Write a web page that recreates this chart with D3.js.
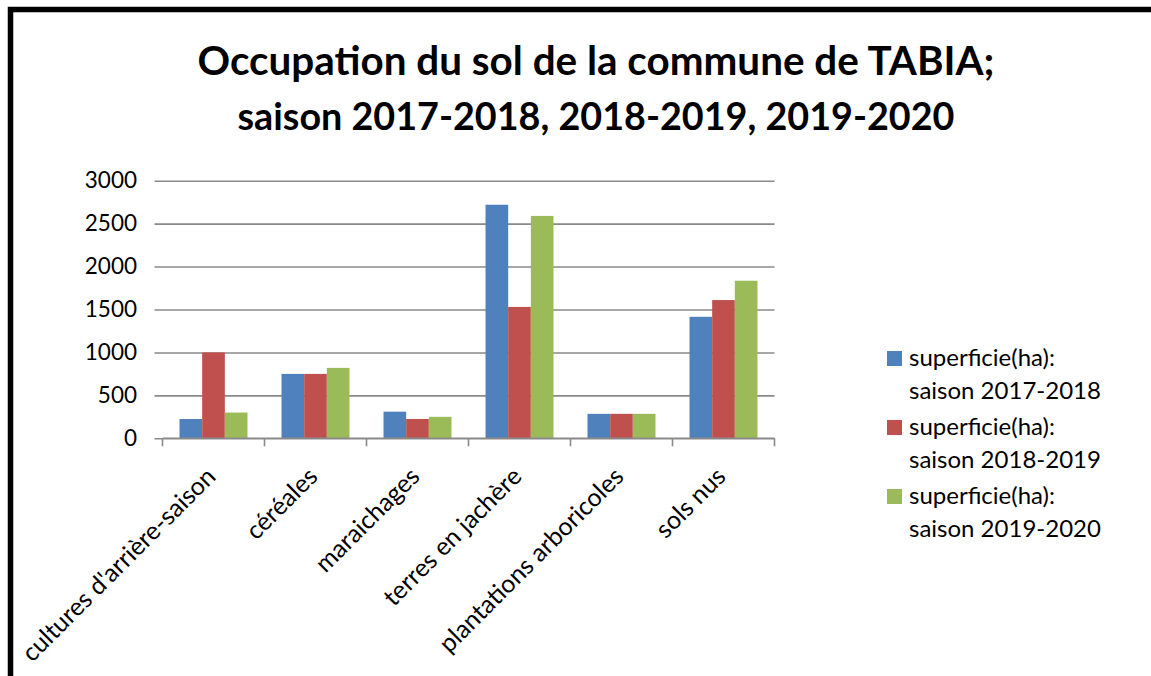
<!DOCTYPE html>
<html>
<head>
<meta charset="utf-8">
<script src="https://cdn.jsdelivr.net/npm/d3@7"></script>
<style>
  html, body { margin: 0; padding: 0; background: #fff; }
  svg { display: block; }
  text { font-family: Lato, "Open Sans", sans-serif; fill: #000; }
</style>
</head>
<body>
<svg id="chart" width="1151" height="676"></svg>
<script>
// Land use of the TABIA commune, surface in hectares per season
const categories = [
  "cultures d'arrière-saison",
  "céréales",
  "maraichages",
  "terres en jachère",
  "plantations arboricoles",
  "sols nus"
];
const seriesNames = [
  ["superficie(ha):", "saison 2017-2018"],
  ["superficie(ha):", "saison 2018-2019"],
  ["superficie(ha):", "saison 2019-2020"]
];
const season2017_2018 = [225, 750, 310, 2720, 285, 1415];
const season2018_2019 = [1000, 750, 225, 1530, 285, 1610];
const season2019_2020 = [300, 820, 250, 2590, 285, 1835];
const yTicks = [0, 500, 1000, 1500, 2000, 2500, 3000];
const titleLines = [
  "Occupation du sol de la commune de TABIA;",
  "saison 2017-2018, 2018-2019, 2019-2020"
];

const seriesValues = [season2017_2018, season2018_2019, season2019_2020];
const colors = ["#4F81BD", "#C0504D", "#9BBB59"];

const svg = d3.select("#chart");

// Outer frame (runs off the right and bottom edges)
svg.append("rect")
  .attr("x", 10.5).attr("y", 9.5)
  .attr("width", 1200).attr("height", 700)
  .attr("fill", "none").attr("stroke", "#000").attr("stroke-width", 5.5);

// Title, each line fitted to its width
const titleSpecs = [
  { y: 75, width: 797 },
  { y: 130, width: 717 }
];
titleLines.forEach((line, i) => {
  const t = svg.append("text")
    .attr("x", 596).attr("y", titleSpecs[i].y)
    .attr("text-anchor", "middle")
    .style("font-weight", "bold")
    .style("font-size", "34px")
    .text(line);
  const w = t.node().getComputedTextLength();
  t.style("font-size", (34 * titleSpecs[i].width / w).toFixed(2) + "px");
});

// Plot area
const plot = { left: 162.5, right: 774.5, top: 180.7, bottom: 438.3 };

const x0 = d3.scaleBand()
  .domain(categories)
  .range([plot.left, plot.right])
  .paddingInner(0)
  .paddingOuter(0);

const x1 = d3.scaleBand()
  .domain(d3.range(seriesValues.length))
  .range([0, x0.bandwidth()])
  .paddingInner(0)
  .paddingOuter(0.75);  // 150% gap width split on both sides of each group

const y = d3.scaleLinear()
  .domain([0, 3000])
  .range([plot.bottom, plot.top]);

// Horizontal gridlines with left tick marks
const yAxis = d3.axisLeft(y)
  .tickValues(yTicks)
  .tickSize(plot.right - plot.left + 8)
  .tickFormat(d3.format("d"));

const gy = svg.append("g")
  .attr("transform", `translate(${plot.right},0)`)
  .call(yAxis);
gy.select(".domain").remove();
gy.selectAll(".tick line")
  .attr("stroke", "#8a8a8a").attr("stroke-width", 1.6);
gy.selectAll(".tick text")
  .attr("x", -(plot.right - plot.left) - 25.5)
  .style("font-size", "22.5px")
  .style("font-family", "Lato, sans-serif")
  .attr("fill", "#000");

// Bars
const groups = svg.append("g").selectAll("g")
  .data(categories)
  .join("g")
  .attr("transform", d => `translate(${x0(d)},0)`);

groups.selectAll("rect")
  .data((d, ci) => seriesValues.map((vals, si) => ({ si, v: vals[ci] })))
  .join("rect")
  .attr("x", d => x1(d.si))
  .attr("width", x1.bandwidth())
  .attr("y", d => y(d.v))
  .attr("height", d => y(0) - y(d.v))
  .attr("fill", d => colors[d.si]);

// Category axis: baseline and ticks between categories
const gx = svg.append("g");
gx.append("line")
  .attr("x1", plot.left).attr("x2", plot.right)
  .attr("y1", plot.bottom).attr("y2", plot.bottom)
  .attr("stroke", "#8a8a8a").attr("stroke-width", 1.6);
const boundaries = categories.map(c => x0(c)).concat([plot.right]);
gx.selectAll("line.tk")
  .data(boundaries)
  .join("line")
  .attr("class", "tk")
  .attr("x1", d => d).attr("x2", d => d)
  .attr("y1", plot.bottom).attr("y2", plot.bottom + 8)
  .attr("stroke", "#8a8a8a").attr("stroke-width", 1.6);

// Rotated category labels
gx.selectAll("text")
  .data(categories)
  .join("text")
  .attr("transform", d => `translate(${x0(d) + x0.bandwidth() / 2 - 9},${plot.bottom + 27}) rotate(-45)`)
  .attr("text-anchor", "end")
  .attr("dy", "0.72em")
  .style("font-size", "25px")
  .text(d => d);

// Legend
const legend = svg.append("g").attr("transform", "translate(887,351)");
const entries = legend.selectAll("g")
  .data(seriesNames)
  .join("g")
  .attr("transform", (d, i) => `translate(0,${i * 69})`);
entries.append("rect")
  .attr("width", 15).attr("height", 15)
  .attr("fill", (d, i) => colors[i]);
entries.append("text")
  .attr("x", 22).attr("y", 15)
  .style("font-size", "24px")
  .text(d => d[0]);
entries.append("text")
  .attr("x", 22).attr("y", 48)
  .style("font-size", "24px")
  .text(d => d[1]);
</script>
</body>
</html>
